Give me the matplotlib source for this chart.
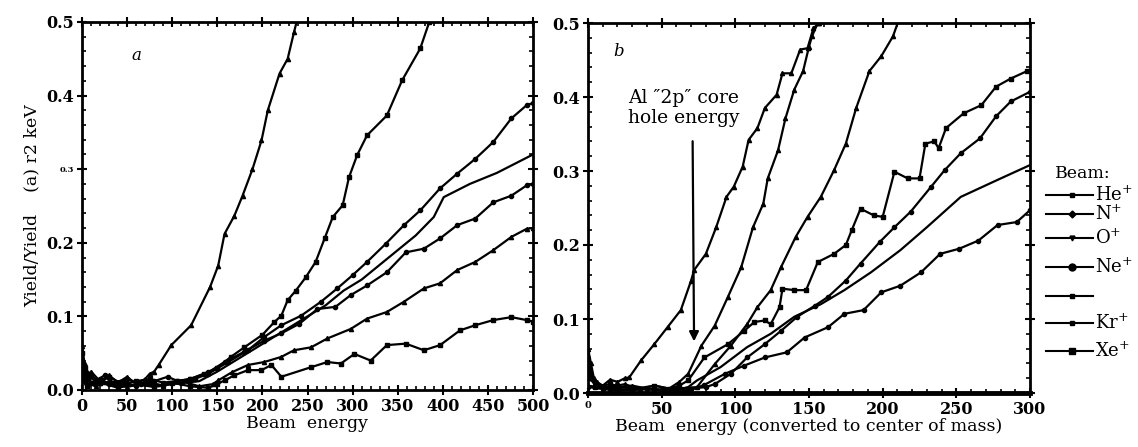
import matplotlib
matplotlib.use("Agg")
import matplotlib.pyplot as plt
from matplotlib.lines import Line2D

plt.rcParams['font.family'] = ['DejaVu Serif']
plt.rcParams['mathtext.fontset'] = 'dejavuserif'

# ---- panel a : yield vs beam energy (lab) ----
a1_x = [0, 3, 6, 10, 20, 30, 40, 50, 60, 70, 75, 80, 85, 99, 121, 142, 151, 158, 169, 178, 189, 199, 206, 219, 228, 235, 240]
a1_y = [.06, .035, .02, .025, .012, .02, .01, .018, .008, .015, .022, .025, .034, .061, .088, .14, .169, .212, .237, .264, .30, .339, .38, .43, .45, .486, .51]

a2_x = [0, 3, 6, 10, 20, 30, 45, 60, 75, 90, 105, 120, 135, 150, 165, 180, 200, 213, 221, 228, 237, 248, 259, 269, 278, 289, 296, 305, 316, 338, 355, 375, 385, 388]
a2_y = [.05, .03, .015, .02, .01, .018, .008, .012, .015, .01, .012, .015, .022, .03, .045, .058, .075, .092, .101, .122, .135, .153, .174, .206, .235, .251, .289, .319, .346, .373, .421, .464, .5, .51]

a3_x = [0, 4, 8, 15, 25, 35, 50, 65, 80, 95, 110, 125, 140, 162, 184, 202, 221, 243, 265, 283, 300, 316, 337, 357, 375, 397, 416, 436, 456, 476, 493, 500]
a3_y = [.04, .025, .018, .012, .02, .01, .015, .008, .012, .018, .01, .015, .022, .038, .054, .072, .088, .101, .12, .138, .156, .174, .199, .224, .244, .274, .294, .314, .337, .369, .387, .39]

a4_x = [0, 5, 12, 25, 40, 55, 70, 85, 100, 115, 130, 150, 170, 190, 210, 230, 250, 270, 290, 310, 330, 350, 370, 390, 401, 430, 460, 500]
a4_y = [.03, .015, .01, .008, .012, .006, .01, .005, .008, .01, .012, .025, .04, .055, .07, .085, .1, .115, .135, .15, .17, .19, .21, .235, .262, .28, .295, .32]

a5_x = [0, 4, 10, 20, 30, 45, 60, 75, 90, 105, 120, 140, 158, 180, 202, 221, 241, 261, 281, 298, 316, 338, 359, 379, 397, 416, 436, 456, 476, 493, 500]
a5_y = [.035, .02, .01, .015, .008, .012, .005, .01, .006, .012, .015, .024, .038, .052, .067, .077, .09, .11, .113, .129, .142, .16, .187, .192, .206, .224, .233, .255, .264, .278, .28]

a6_x = [0, 5, 15, 30, 50, 70, 90, 110, 130, 145, 151, 166, 184, 202, 221, 235, 254, 272, 298, 316, 338, 357, 379, 397, 416, 436, 456, 476, 493, 500]
a6_y = [.02, .01, .005, .012, .004, .01, .006, .012, .005, .008, .013, .024, .034, .038, .045, .054, .058, .07, .083, .097, .106, .12, .138, .145, .163, .174, .19, .208, .219, .22]

a7_x = [0, 5, 20, 40, 60, 80, 100, 120, 140, 150, 158, 169, 184, 199, 210, 221, 254, 272, 287, 302, 320, 338, 359, 379, 397, 419, 436, 456, 476, 493, 500]
a7_y = [.015, .005, .01, .003, .008, .004, .01, .005, .003, .008, .013, .02, .027, .027, .034, .018, .031, .038, .036, .049, .04, .061, .063, .054, .061, .081, .088, .095, .099, .095, .093]

# ---- panel b : yield vs centre-of-mass energy ----
b1_x = [0, 2, 4, 6, 10, 15, 20, 25, 28, 36, 45, 54, 63, 70, 72, 80, 87, 94, 99, 105, 109, 115, 120, 128, 132, 138, 144, 149, 153, 157]
b1_y = [.06, .04, .02, .015, .01, .018, .015, .02, .021, .044, .066, .089, .112, .152, .166, .188, .224, .265, .279, .306, .342, .358, .385, .403, .432, .432, .464, .466, .493, .5]

b2_x = [0, 3, 8, 15, 25, 35, 45, 55, 62, 68, 77, 86, 95, 104, 112, 119, 122, 129, 134, 140, 146, 150, 152, 156]
b2_y = [.05, .02, .01, .008, .012, .005, .01, .006, .015, .026, .064, .091, .13, .17, .224, .256, .29, .328, .371, .41, .435, .468, .482, .5]

b3_x = [0, 5, 15, 30, 45, 60, 74, 86, 97, 108, 115, 124, 131, 141, 149, 158, 167, 175, 182, 191, 199, 207, 212]
b3_y = [.04, .01, .006, .01, .004, .006, .008, .039, .064, .093, .116, .139, .17, .211, .238, .265, .301, .337, .385, .435, .455, .482, .51]

b4_x = [0, 5, 15, 30, 45, 55, 62, 68, 79, 95, 106, 113, 120, 124, 130, 132, 140, 148, 156, 167, 175, 179, 185, 194, 200, 208, 217, 225, 229, 235, 238, 243, 255, 267, 277, 287, 298]
b4_y = [.03, .008, .012, .005, .01, .006, .01, .017, .048, .066, .084, .096, .098, .093, .116, .141, .139, .139, .177, .188, .2, .22, .249, .24, .238, .299, .29, .29, .337, .34, .331, .358, .378, .389, .414, .425, .435]

b5_x = [0, 10, 30, 50, 70, 80, 86, 97, 108, 120, 131, 142, 154, 163, 175, 185, 198, 208, 219, 233, 242, 253, 266, 277, 287, 300]
b5_y = [.02, .005, .008, .004, .006, .008, .012, .026, .048, .066, .084, .103, .118, .13, .152, .175, .204, .224, .245, .279, .301, .324, .344, .374, .394, .407]

b6_x = [0, 20, 40, 60, 68, 74, 90, 108, 124, 140, 158, 174, 192, 212, 230, 253, 278, 300]
b6_y = [.01, .004, .006, .003, .008, .017, .035, .062, .08, .103, .12, .139, .163, .193, .224, .265, .288, .308]

b7_x = [0, 20, 40, 60, 68, 79, 93, 106, 120, 135, 147, 163, 174, 187, 199, 212, 226, 239, 252, 265, 278, 291, 300]
b7_y = [.008, .003, .005, .002, .003, .011, .026, .037, .048, .055, .075, .089, .107, .112, .136, .145, .163, .188, .195, .206, .227, .231, .247]

beams = ['He$^{+}$', 'N$^{+}$', 'O$^{+}$', 'Ne$^{+}$', '', 'Kr$^{+}$', 'Xe$^{+}$']
legend_markers = ['s', 'D', 'v', 'o', 's', 's', 's']
legend_sizes = [3, 3.5, 3.5, 5, 3, 3, 5]

W, H = 1138, 447
fig = plt.figure(figsize=(W / 100, H / 100), dpi=100)
axa = fig.add_axes([82 / W, 1 - 390 / H, (533 - 82) / W, (390 - 22) / H])
axb = fig.add_axes([588 / W, 1 - 393 / H, (1030 - 588) / W, (393 - 23) / H])

curves_a = [(a1_x, a1_y, '^'), (a2_x, a2_y, 's'), (a3_x, a3_y, 'o'), (a4_x, a4_y, None),
            (a5_x, a5_y, 'o'), (a6_x, a6_y, '^'), (a7_x, a7_y, 's')]
curves_b = [(b1_x, b1_y, '^'), (b2_x, b2_y, '^'), (b3_x, b3_y, '^'), (b4_x, b4_y, 's'),
            (b5_x, b5_y, 'o'), (b6_x, b6_y, None), (b7_x, b7_y, 'o')]

for ax, curves in [(axa, curves_a), (axb, curves_b)]:
    for x, y, m in curves:
        ax.plot(x, y, color='black', lw=1.6, marker=m, ms=3)

def style_axis(ax, xmax, xstep, xminor):
    ax.set_xlim(0, xmax)
    ax.set_ylim(0, 0.5)
    ax.set_xticks(range(0, xmax + 1, xstep))
    ax.set_xticks(range(0, xmax + 1, xminor), minor=True)
    ax.set_yticks([0, 0.1, 0.2, 0.3, 0.4, 0.5])
    ax.set_yticklabels(['0.0', '0.1', '0.2', '0.3', '0.4', '0.5'])
    ax.set_yticks([i * 0.02 for i in range(26)], minor=True)
    ax.tick_params(which='major', direction='inout', length=7, width=1.5,
                   top=True, right=True, labelsize=11.5, pad=2)
    ax.tick_params(which='minor', direction='in', length=3, width=1.2,
                   top=True, right=True)
    for lab in ax.get_xticklabels() + ax.get_yticklabels():
        lab.set_fontweight('bold')
    for s in ax.spines.values():
        s.set_linewidth(2)

style_axis(axa, 500, 50, 10)
style_axis(axb, 300, 50, 10)
axb.spines['bottom'].set_linewidth(3.5)

# small labels as in the original
axa.get_yticklabels()[3].set_fontsize(6)
axb.get_xticklabels()[0].set_fontsize(7)

axa.set_xlabel('Beam  energy', fontsize=12.5, labelpad=0)
axb.set_xlabel('Beam  energy (converted to center of mass)', fontsize=12.5, labelpad=0)
axa.set_ylabel('Yield/Yield    (a) r2 keV', fontsize=12.5, labelpad=4)

axa.text(55, 0.448, 'a', style='italic', fontsize=12)
axb.text(17, 0.455, 'b', style='italic', fontsize=12)

axb.text(65, 0.385, 'Al \u20332p\u2033 core\nhole energy', fontsize=13.5,
         ha='center', va='center', linespacing=1.2)
axb.annotate('', xy=(72, 0.066), xytext=(71, 0.344),
             arrowprops=dict(arrowstyle='-|>', color='black', lw=1.6,
                             mutation_scale=14))

# hand-made legend to the right of panel b
fig.text(1055 / W, 1 - 174 / H, 'Beam:', fontsize=12.5, va='center', ha='left')
leg_y = [195, 214, 238, 267, 296, 323, 351]
for lab, mk, sz, yy in zip(beams, legend_markers, legend_sizes, leg_y):
    fy = 1 - yy / H
    fig.add_artist(Line2D([1046 / W, 1093 / W], [fy, fy], color='black', lw=1.5))
    fig.add_artist(Line2D([1072 / W], [fy], color='black', marker=mk, ms=sz))
    if lab:
        fig.text(1095 / W, fy, lab, fontsize=13, va='center', ha='left')

fig.savefig('out.png', dpi=100)
